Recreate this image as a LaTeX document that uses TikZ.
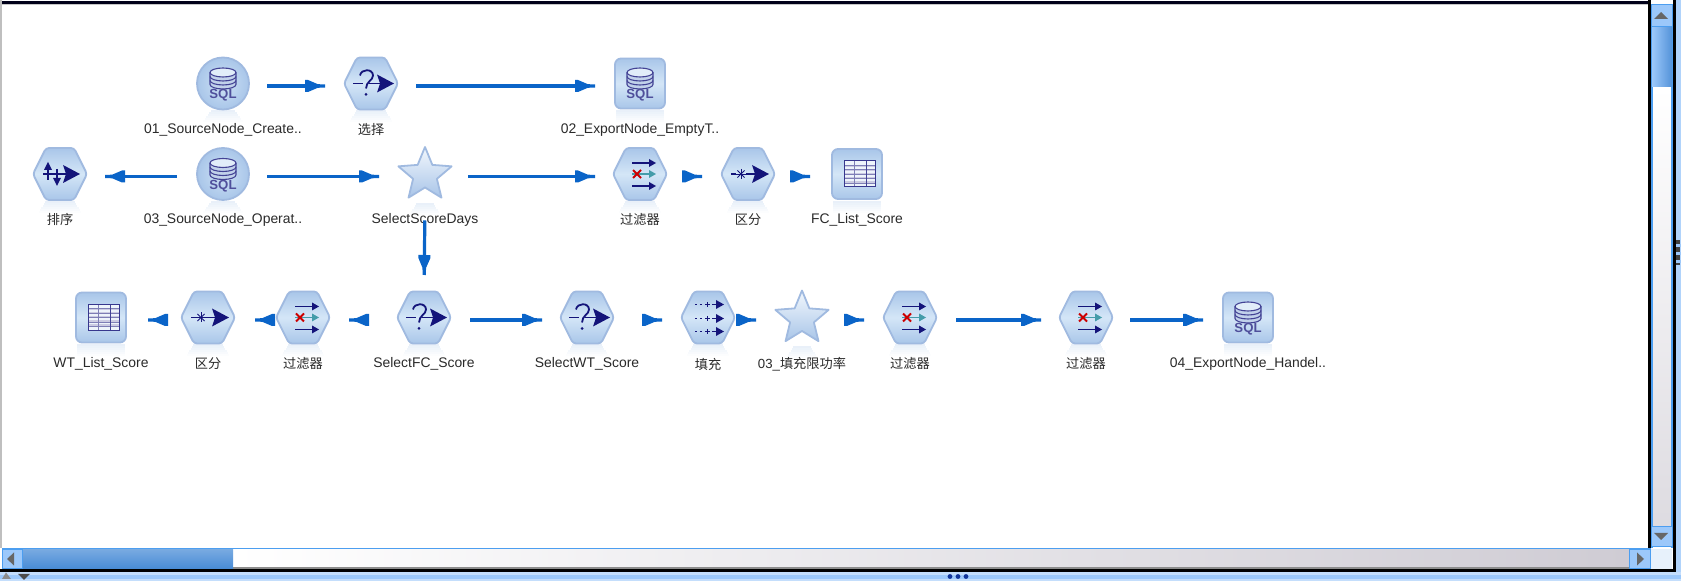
\documentclass[tikz,border=0pt]{standalone}
\usepackage{fontspec}
\setmainfont{Liberation Sans}
\newfontfamily\cjkfont{Noto Sans CJK SC}
\usetikzlibrary{arrows.meta}
\definecolor{flowblue}{HTML}{0A64C8}
\definecolor{navy}{HTML}{14147A}
\definecolor{edgeblue}{HTML}{A0BAE0}
\definecolor{iconlo}{HTML}{A9C6E9}
\definecolor{iconhi}{HTML}{D4E6F7}
\definecolor{barblue}{HTML}{9CC8FA}
\definecolor{barline}{HTML}{4C9EF0}
\definecolor{trackgray}{HTML}{CFCCD4}
\definecolor{labelgray}{HTML}{2A2A2A}
\pgfdeclarearrow{
  name=FlowTip,
  setup code={
    \pgfarrowssettipend{0pt}
    \pgfarrowssetlineend{-5pt}
    \pgfarrowssetbackend{-10pt}
    \pgfarrowssetvisualbackend{-9pt}
    \pgfarrowshullpoint{-10pt}{3pt}
    \pgfarrowshullpoint{-10pt}{-3pt}
    \pgfarrowshullpoint{0pt}{0.8pt}
    \pgfarrowshullpoint{0pt}{-0.8pt}
  },
  drawing code={
    \pgfpathmoveto{\pgfqpoint{0pt}{0.8pt}}
    \pgfpathlineto{\pgfqpoint{-3.6pt}{0.9pt}}
    \pgfpathlineto{\pgfqpoint{-8.5pt}{3pt}}
    \pgfpathlineto{\pgfqpoint{-10pt}{3pt}}
    \pgfpathlineto{\pgfqpoint{-10pt}{-3pt}}
    \pgfpathlineto{\pgfqpoint{-8.5pt}{-3pt}}
    \pgfpathlineto{\pgfqpoint{-3.6pt}{-0.9pt}}
    \pgfpathlineto{\pgfqpoint{0pt}{-0.8pt}}
    \pgfpathclose
    \pgfusepathqfill
  }
}
\tikzset{
  x=0.5pt,y=-0.5pt,
  flow/.style={draw=flowblue,line width=1.6pt,-{FlowTip}},
  gapped/.style 2 args={shorten <=#1*0.5pt,shorten >=#2*0.5pt},
  anchorbox/.style={minimum width=27pt,minimum height=30pt,inner sep=0pt,outer sep=0pt},
  lbl/.style={font=\fontsize{6.95pt}{8pt}\selectfont,text=labelgray,inner sep=0pt},
  cjklbl/.style={font=\cjkfont\fontsize{6.6pt}{8pt}\selectfont,text=labelgray,inner sep=0pt},
  skin/.style={draw=edgeblue,line width=0.9pt,top color=iconlo,bottom color=iconlo,middle color=iconhi,shading angle=0},
  glyph/.style={fill=navy,draw=none},
  gline/.style={draw=navy!80!white,line width=0.55pt}
}
% soft reflection under an icon: bands from half width #1 to half width #2
\newcommand{\softmirror}[2]{
  \foreach \k in {0,...,5} {
    \pgfmathsetmacro{\ww}{#1+(#2-#1)*\k/5}
    \pgfmathsetmacro{\tone}{26-4.5*\k}
    \fill[iconlo!\tone!white] (-\ww,27+2*\k) rectangle (\ww,29+2*\k);
  }
}
\newcommand{\hexbody}{
  \softmirror{15}{21}
  \draw[skin,rounded corners=1.5pt] (-27,0)--(-14,-26)--(14,-26)--(27,0)--(14,26)--(-14,26)--cycle;
}
\newcommand{\circbody}{
  \softmirror{12}{20}
  \draw[draw=edgeblue,line width=0.9pt,inner color=iconhi!85!iconlo,outer color=iconlo] (0,0) circle[radius=26];
}
\newcommand{\boxbody}{
  \softmirror{24}{24}
  \draw[skin,rounded corners=3pt] (-25,-25) rectangle (25,25);
}
\newcommand{\starbody}{
  \begin{scope}[shift={(0,2)}]\softmirror{9}{15}\end{scope}
  \begin{scope}[shift={(0,1)}]
  \draw[draw=edgeblue,line width=0.9pt,top color=iconhi!30!white,bottom color=iconlo!90!edgeblue,line join=round]
    (90:-28)--(126:-12.5)--(162:-28)--(198:-12.5)--(234:-28)--(270:-12.5)--(306:-28)--(342:-12.5)--(18:-28)--(54:-12.5)--cycle;
  \end{scope}
}
\newcommand{\bigarrowat}[1]{\fill[glyph] (#1,-9)--(#1+17,0)--(#1,9)--(#1+3,0)--cycle;}
\newcommand{\dbglyph}{
  \draw[gline,fill=iconhi!90!navy] (-13,-11) -- (-13,1) arc[start angle=180,end angle=0,x radius=13,y radius=4.5] -- (13,-11);
  \draw[gline,fill=iconhi!70!white] (0,-11) ellipse[x radius=13,y radius=4.5];
  \draw[gline] (-13,-7) arc[start angle=180,end angle=0,x radius=13,y radius=4.5];
  \draw[gline] (-13,-3) arc[start angle=180,end angle=0,x radius=13,y radius=4.5];
  \node[inner sep=0pt,text=navy!75!white,font=\fontsize{6.6pt}{8pt}\selectfont\bfseries] at (0,12) {SQL};
}
\newcommand{\askglyph}{
  \draw[navy,line width=0.9pt] (-18,0)--(-8,0);
  \draw[navy,line width=0.9pt] (-2,0)--(9,0);
  \bigarrowat{6}
  \draw[navy,line width=0.9pt,fill=none] (-11,-8) .. controls (-10,-15) and (2,-15) .. (2,-8) .. controls (2,-3) and (-5,-2) .. (-5,5);
  \fill[navy] (-5,11) circle[radius=1.5];
}
\newcommand{\sortglyph}{
  \draw[navy,line width=0.7pt] (-12,-9)--(-12,6);
  \draw[navy,line width=0.7pt] (-3,-5)--(-3,9);
  \fill[glyph] (-12,-12)--(-8,-4)--(-16,-4)--cycle;
  \fill[glyph] (-3,12)--(1,4)--(-7,4)--cycle;
  \draw[navy,line width=0.7pt] (-17,0)--(7,0);
  \bigarrowat{3}
}
\newcommand{\filterglyph}{
  \foreach \yy in {-11,12} {
    \draw[navy,line width=0.6pt] (-8,\yy)--(11,\yy);
    \fill[glyph] (9,\yy-4)--(16,\yy)--(9,\yy+4)--cycle;
  }
  \draw[teal!60!iconlo,line width=0.6pt] (-8,0)--(11,0);
  \fill[teal!60!iconlo] (9,-4)--(16,0)--(9,4)--cycle;
  \draw[red!80!black,line width=0.9pt] (-7,-4)--(1,4) (-7,4)--(1,-4);
}
\newcommand{\distinctglyph}{
  \draw[navy,line width=0.9pt] (-17,0)--(-12,0);
  \draw[navy,line width=0.9pt] (-2,0)--(8,0);
  \foreach \aa in {0,45,90,135} {\draw[navy,line width=0.45pt,shift={(-7,0)}] (\aa:-5)--(\aa:5);}
  \bigarrowat{4}
}
\newcommand{\fillglyph}{
  \foreach \yy in {-13,1,14} {
    \draw[navy,line width=0.6pt,dash pattern=on 1pt off 1.4pt] (-13,\yy)--(-4,\yy);
    \draw[navy,line width=0.6pt] (-3,\yy)--(2,\yy) (-0.5,\yy-2.5)--(-0.5,\yy+2.5) (4,\yy)--(10,\yy);
    \fill[glyph] (8,\yy-4.5)--(16,\yy)--(8,\yy+4.5)--cycle;
  }
}
\newcommand{\tableglyph}{
  \fill[white!80!iconlo] (-13,-13) rectangle (18,13);
  \foreach \yy in {-9,-5,-1,3,7} {\fill[navy!22!white] (-13,\yy) rectangle (18,\yy+2);}
  \foreach \yy in {-9,-4.5,0,4.5,9} {\draw[navy!55!white,line width=0.3pt] (-13,\yy)--(18,\yy);}
  \draw[navy!55!white,line width=0.3pt] (-3,-13)--(-3,13);
  \draw[navy!80!white,line width=0.4pt] (9,-13)--(9,13);
  \draw[navy!85!white,line width=0.5pt] (-13,-13) rectangle (18,13);
}
% \iconnode{name}{x}{arrow level minus 4}{body+glyph}{label style}{label}{label y}
\newcommand{\iconnode}[7]{
  \node[anchorbox] (#1) at (#2,#3+4) {};
  \begin{scope}[shift={(#2,#3+1.5)}]#4\end{scope}
  \node[#5] (#1-label) at (#2,#7) {#6};
}
\begin{document}
\begin{tikzpicture}
\useasboundingbox (0,0) rectangle (1681,581);
% window
\fill[white] (0,0) rectangle (1681,581);
\fill[black!90!blue] (0,0.8) rectangle (1650,4);
\fill[black!22] (0,4) rectangle (1650,5);
\fill[black!25] (0,0) rectangle (1.5,548);
% vertical scrollbar
\fill[black] (1648,0) rectangle (1651,548);
\shade[top color=white,bottom color=trackgray!70!white] (1652,87) rectangle (1672,527);
\fill[barline] (1650.5,4) rectangle (1653,548);
\fill[barline] (1671,4) rectangle (1672.5,548);
\shade[left color=barblue,right color=flowblue!70!white] (1652,27) rectangle (1672,87);
\fill[barblue] (1651,5) rectangle (1672,27);
\draw[barline,line width=0.5pt] (1651,5) rectangle (1672,27);
\fill[black!60] (1661,12)--(1668,19)--(1654,19)--cycle;
\fill[barblue] (1651,527) rectangle (1672,547);
\draw[barline,line width=0.5pt] (1651,527) rectangle (1672,547);
\fill[black!60] (1661,540)--(1668,533)--(1654,533)--cycle;
% right border
\fill[black] (1672.5,0) rectangle (1675.5,572);
\fill[barblue!80!white] (1675.5,0) rectangle (1681,581);
\fill[black!75] (1675.5,240) rectangle (1680,265);
\foreach \yy in {244,252,260} {\fill[barblue] (1675.5,\yy) rectangle (1681,\yy+3);}
% horizontal scrollbar
\fill[barline] (1.5,548) rectangle (1651,549.5);
\shade[left color=white,right color=trackgray] (233,550) rectangle (1629,568);
\fill[black!45] (233,567.5) rectangle (1629,569);
\shade[top color=flowblue!55!white,bottom color=flowblue!75!white] (22,549.5) rectangle (233,569);
\fill[barblue] (2,549.5) rectangle (22,569);
\draw[barline,line width=0.5pt] (2,549.5) rectangle (22,569);
\fill[black!60] (7,559)--(14,552.5)--(14,565.5)--cycle;
\fill[barblue] (1629,549.5) rectangle (1650,569);
\draw[barline,line width=0.5pt] (1629,549.5) rectangle (1650,569);
\fill[black!60] (1644,559)--(1637,552.5)--(1637,565.5)--cycle;
\fill[iconhi!55!white] (1651,549.5) rectangle (1672,569);
% bottom border
\fill[black] (0,569) rectangle (1675.5,572.5);
\fill[barblue!60!white] (0,572.5) rectangle (1681,581);
\fill[barblue] (0,575) rectangle (1681,579);
\foreach \xx in {950,958,966} {\fill[navy!60!flowblue] (\xx,576.5) circle[radius=2.4];}
\fill[black!45] (6,572.5)--(2,579)--(11,579)--cycle;
\fill[black!70] (18,574)--(30,574)--(24,580)--cycle;
% row 1
\iconnode{src1}{223}{82}{\circbody\dbglyph}{lbl}{01\_SourceNode\_Create..}{130}
\iconnode{sel}{371}{82}{\hexbody\askglyph}{cjklbl}{选择}{130}
\iconnode{exp2}{640}{82}{\boxbody\dbglyph}{lbl}{02\_ExportNode\_EmptyT..}{130}
% row 2
\iconnode{sort}{60}{172.5}{\hexbody\sortglyph}{cjklbl}{排序}{219.5}
\iconnode{src3}{223}{172.5}{\circbody\dbglyph}{lbl}{03\_SourceNode\_Operat..}{219.5}
\iconnode{days}{425}{172.5}{\starbody}{lbl}{SelectScoreDays}{219.5}
\iconnode{filtA}{640}{172.5}{\hexbody\filterglyph}{cjklbl}{过滤器}{219.5}
\iconnode{distA}{748}{172.5}{\hexbody\distinctglyph}{cjklbl}{区分}{219.5}
\iconnode{listA}{857}{172.5}{\boxbody\tableglyph}{lbl}{FC\_List\_Score}{219.5}
% row 3
\iconnode{listB}{101}{316}{\boxbody\tableglyph}{lbl}{WT\_List\_Score}{364}
\iconnode{distB}{208}{316}{\hexbody\distinctglyph}{cjklbl}{区分}{364}
\iconnode{filtB}{303}{316}{\hexbody\filterglyph}{cjklbl}{过滤器}{364}
\iconnode{selFC}{424}{316}{\hexbody\askglyph}{lbl}{SelectFC\_Score}{364}
\iconnode{selWT}{587}{316}{\hexbody\askglyph}{lbl}{SelectWT\_Score}{364}
\iconnode{fillA}{708}{316}{\hexbody\fillglyph}{cjklbl}{填充}{364}
\iconnode{rate}{802}{316}{\starbody}{cjklbl}{{\fontspec{Liberation Sans}03\_}填充限功率}{364}
\iconnode{filtC}{910}{316}{\hexbody\filterglyph}{cjklbl}{过滤器}{364}
\iconnode{filtD}{1086}{316}{\hexbody\filterglyph}{cjklbl}{过滤器}{364}
\iconnode{exp4}{1248}{316}{\boxbody\dbglyph}{lbl}{04\_ExportNode\_Handel..}{364}
% connectors
\draw[flow,gapped={17}{19}] (src1.east) -- (sel.west);
\draw[flow,gapped={18}{18}] (sel.east) -- (exp2.west);
\draw[flow,gapped={19}{18}] (src3.west) -- (sort.east);
\draw[flow,gapped={17}{19}] (src3.east) -- (days.west);
\draw[flow,gapped={16}{18}] (days.east) -- (filtA.west);
\draw[flow,gapped={16}{19}] (filtA.east) -- (distA.west);
\draw[flow,gapped={16}{20}] (distA.east) -- (listA.west);
\draw[flow,gapped={14}{15}] (days.south) -- (selFC.north);
\draw[flow,gapped={14}{20}] (distB.west) -- (listB.east);
\draw[flow,gapped={1}{20}] (filtB.west) -- (distB.east);
\draw[flow,gapped={28}{19}] (selFC.west) -- (filtB.east);
\draw[flow,gapped={19}{18}] (selFC.east) -- (selWT.west);
\draw[flow,gapped={29}{19}] (selWT.east) -- (fillA.west);
\draw[flow,gapped={1}{19}] (fillA.east) -- (rate.west);
\draw[flow,gapped={16}{19}] (rate.east) -- (filtC.west);
\draw[flow,gapped={19}{18}] (filtC.east) -- (filtD.west);
\draw[flow,gapped={17}{18}] (filtD.east) -- (exp4.west);
\end{tikzpicture}
\end{document}
